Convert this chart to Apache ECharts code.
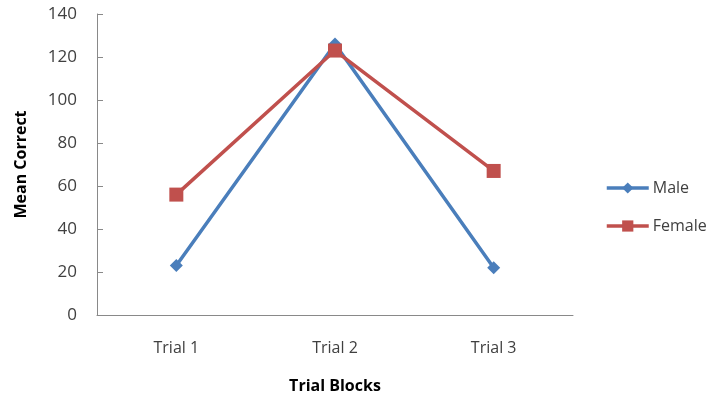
<!DOCTYPE html>
<html>
<head>
<meta charset="utf-8">
<script src="https://cdn.jsdelivr.net/npm/echarts@6/dist/echarts.min.js"></script>
<style>
  html, body { margin: 0; padding: 0; background: #fff; }
  #main { width: 714px; height: 400px; }
</style>
</head>
<body>
<div id="main"></div>
<script>
// chart data
const categories = ["Trial 1", "Trial 2", "Trial 3"];
const maleValues = [23, 126, 22];
const femaleValues = [56, 123, 67];
const yTicks = [0, 20, 40, 60, 80, 100, 120, 140];

const textFont = "'Open Sans', sans-serif";

const chart = echarts.init(document.getElementById("main"));
chart.setOption({
  animation: false,
  grid: {
    left: 97,
    right: 141,
    top: 14,
    bottom: 85,
    containLabel: false
  },
  legend: {
    orient: "vertical",
    left: 605,
    top: 180,
    padding: 0,
    itemWidth: 42,
    itemHeight: 14,
    itemGap: 22,
    lineStyle: { width: 3.5 },
    textStyle: { fontFamily: textFont, fontSize: 16, color: "#404040", padding: [0, 0, 0, -1] },
    data: ["Male", "Female"]
  },
  xAxis: {
    type: "category",
    data: categories,
    boundaryGap: true,
    name: "Trial Blocks",
    nameLocation: "middle",
    nameGap: 63,
    nameTextStyle: { fontFamily: textFont, fontSize: 16, fontWeight: "bold", color: "#000" },
    axisLine: { lineStyle: { color: "#898989", width: 1 } },
    axisTick: { show: false },
    axisLabel: { fontFamily: textFont, fontSize: 16, color: "#404040", margin: 25 }
  },
  yAxis: {
    type: "value",
    min: yTicks[0],
    max: yTicks[yTicks.length - 1],
    interval: 20,
    name: "Mean Correct",
    nameLocation: "middle",
    nameGap: 68,
    nameTextStyle: { fontFamily: textFont, fontSize: 16, fontWeight: "bold", color: "#000" },
    axisLine: { show: true, lineStyle: { color: "#898989", width: 1 } },
    axisTick: { show: true, inside: true, length: 6, lineStyle: { color: "#898989" } },
    splitLine: { show: false },
    axisLabel: { fontFamily: textFont, fontSize: 17, color: "#404040", margin: 20 }
  },
  series: [
    {
      name: "Male",
      type: "line",
      data: maleValues,
      symbol: "diamond",
      symbolSize: 13,
      color: "#4a7ebb",
      lineStyle: { width: 3.5, color: "#4a7ebb" },
      itemStyle: { color: "#4a7ebb" }
    },
    {
      name: "Female",
      type: "line",
      data: femaleValues,
      symbol: "rect",
      symbolSize: 14,
      color: "#c0504d",
      lineStyle: { width: 3.5, color: "#c0504d" },
      itemStyle: { color: "#c0504d" }
    }
  ]
});
</script>
</body>
</html>
